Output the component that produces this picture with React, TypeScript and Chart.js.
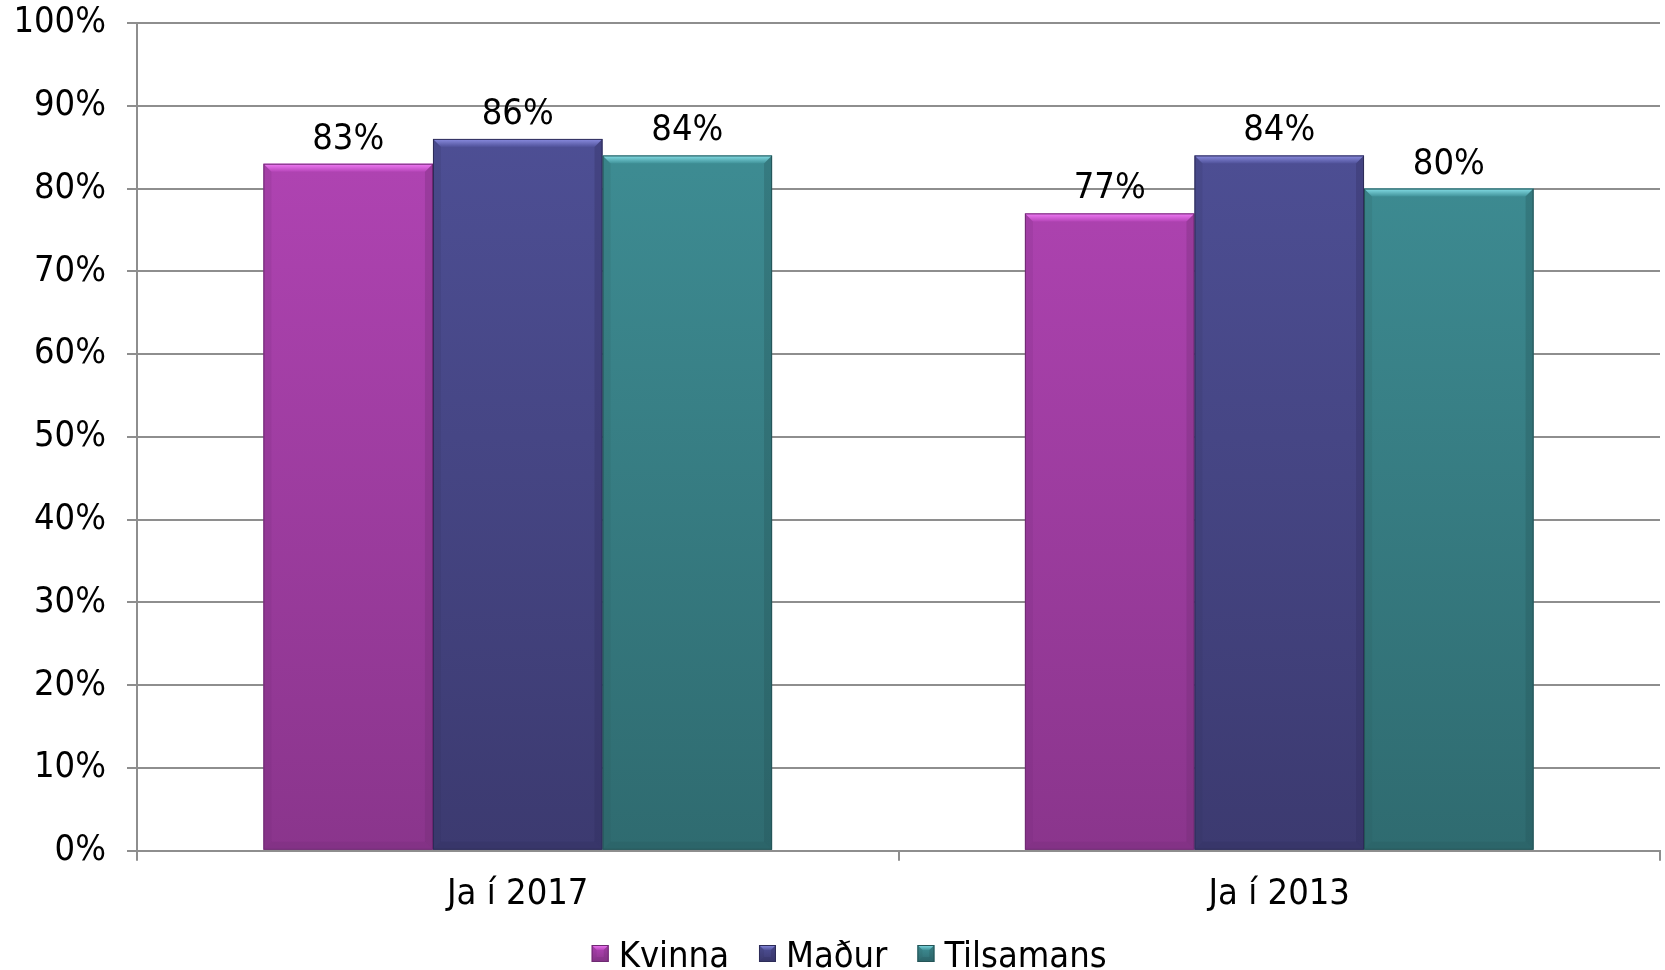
import React, { useEffect, useRef } from "react";
import { Chart, registerables } from "chart.js";

Chart.register(...registerables);

const categories = ["Ja í 2017", "Ja í 2013"];
const seriesNames = ["Kvinna", "Maður", "Tilsamans"];
const kvinna = [83, 77];
const madur = [86, 84];
const tilsamans = [84, 80];
const yTickValues = [0, 10, 20, 30, 40, 50, 60, 70, 80, 90, 100];

const palette = [
  { top: "#b646b9", bottom: "#8a358c", light: "#f27cf7", mid: "#a03fa4", edge: "#6e2a72" },
  { top: "#50529a", bottom: "#3c3a70", light: "#8c8ee2", mid: "#474784", edge: "#2d2c58" },
  { top: "#409299", bottom: "#2f6b70", light: "#86e0e8", mid: "#387e85", edge: "#255457" },
];

const FONT = "'DejaVu Sans Condensed', 'DejaVu Sans', Verdana, sans-serif";
const FSIZE = 36;
const GRID = "#8e8e8e";

function gradientFor(i: number) {
  return (ctx: any) => {
    const chart = ctx.chart;
    const area = chart.chartArea;
    if (!area) return palette[i].mid;
    const g = chart.ctx.createLinearGradient(0, area.top, 0, area.bottom);
    g.addColorStop(0, palette[i].top);
    g.addColorStop(1, palette[i].bottom);
    return g;
  };
}

function drawBevelBox(c: CanvasRenderingContext2D, di: number, x0: number, top: number, x1: number, bot: number, b: number, fill: any) {
  c.save();
  if (fill) {
    c.fillStyle = fill;
    c.fillRect(x0, top, x1 - x0, bot - top);
  }
  const tg = c.createLinearGradient(0, top, 0, top + b);
  tg.addColorStop(0, palette[di].light);
  tg.addColorStop(1, palette[di].top);
  c.fillStyle = tg;
  c.beginPath();
  c.moveTo(x0, top);
  c.lineTo(x1, top);
  c.lineTo(x1 - b, top + b);
  c.lineTo(x0 + b, top + b);
  c.closePath();
  c.fill();
  c.fillStyle = palette[di].edge;
  c.globalAlpha = 0.15;
  c.beginPath();
  c.moveTo(x0, top);
  c.lineTo(x0 + b, top + b);
  c.lineTo(x0 + b, bot - b);
  c.lineTo(x0, bot);
  c.closePath();
  c.fill();
  c.globalAlpha = 0.3;
  c.beginPath();
  c.moveTo(x1, top);
  c.lineTo(x1 - b, top + b);
  c.lineTo(x1 - b, bot - b);
  c.lineTo(x1, bot);
  c.closePath();
  c.fill();
  c.globalAlpha = 0.25;
  c.beginPath();
  c.moveTo(x0, bot);
  c.lineTo(x0 + b, bot - b);
  c.lineTo(x1 - b, bot - b);
  c.lineTo(x1, bot);
  c.closePath();
  c.fill();
  c.globalAlpha = 1;
  c.strokeStyle = palette[di].edge;
  c.lineWidth = 1;
  c.strokeRect(x0 + 0.5, top + 0.5, x1 - x0 - 1, bot - top - 1);
  c.restore();
}

const bevelPlugin = {
  id: "bevel",
  afterDatasetsDraw(chart: any) {
    const c = chart.ctx;
    chart.data.datasets.forEach((_ds: any, di: number) => {
      const meta = chart.getDatasetMeta(di);
      meta.data.forEach((el: any) => {
        const p = el.getProps(["x", "y", "base", "width"], true);
        drawBevelBox(c, di, p.x - p.width / 2, p.y, p.x + p.width / 2, p.base, 8, null);
      });
    });
  },
};

const labelPlugin = {
  id: "valueLabels",
  afterDatasetsDraw(chart: any) {
    const c = chart.ctx;
    c.save();
    c.font = `${FSIZE}px ${FONT}`;
    c.fillStyle = "#000";
    c.textAlign = "center";
    c.textBaseline = "alphabetic";
    chart.data.datasets.forEach((ds: any, di: number) => {
      const meta = chart.getDatasetMeta(di);
      meta.data.forEach((el: any, i: number) => {
        c.fillText(`${ds.data[i]}%`, el.x, el.y - 15);
      });
    });
    c.restore();
  },
};

const legendPlugin = {
  id: "customLegend",
  afterDraw(chart: any) {
    const c = chart.ctx;
    const box = 17;
    const gapText = 10;
    const gapItem = 30;
    c.save();
    c.font = `${FSIZE}px ${FONT}`;
    const widths = seriesNames.map((n) => box + gapText + c.measureText(n).width);
    const total = widths.reduce((a, b) => a + b, 0) + gapItem * (seriesNames.length - 1);
    let x = chart.width * 0.51 - total / 2;
    const yMid = chart.height - 12;
    const boxTop = chart.height - 25;
    seriesNames.forEach((n, i) => {
      const g = c.createLinearGradient(0, boxTop, 0, boxTop + box);
      g.addColorStop(0, palette[i].top);
      g.addColorStop(1, palette[i].bottom);
      drawBevelBox(c, i, x, boxTop, x + box, boxTop + box, 5, g);
      c.fillStyle = "#000";
      c.textAlign = "left";
      c.textBaseline = "middle";
      c.fillText(n, x + box + gapText, yMid);
      x += widths[i] + gapItem;
    });
    c.restore();
  },
};

export default function App() {
  const ref = useRef<HTMLCanvasElement | null>(null);

  useEffect(() => {
    if (!ref.current) return;
    const series = [kvinna, madur, tilsamans];
    const chart = new Chart(ref.current, {
      type: "bar",
      data: {
        labels: categories,
        datasets: series.map((d, i) => ({
          label: seriesNames[i],
          data: d,
          backgroundColor: gradientFor(i),
          borderWidth: 0,
          categoryPercentage: 0.668,
          barPercentage: 1,
        })),
      },
      options: {
        animation: false,
        responsive: true,
        maintainAspectRatio: false,
        layout: { padding: { top: 23, right: 5, left: 0, bottom: 42 } },
        plugins: {
          tooltip: { enabled: false },
          legend: { display: false },
        },
        scales: {
          x: {
            grid: {
              display: true,
              drawOnChartArea: false,
              drawTicks: true,
              tickLength: 10,
              color: GRID,
              lineWidth: 2,
              offset: true,
            },
            border: { display: true, color: GRID, width: 2 },
            ticks: {
              font: { family: FONT, size: FSIZE },
              color: "#000",
              padding: 12,
            },
          },
          y: {
            min: 0,
            max: 100,
            afterBuildTicks: (scale: any) => {
              scale.ticks = yTickValues.map((v) => ({ value: v }));
            },
            afterFit: (scale: any) => {
              scale.width = 137;
              scale.paddingTop = 0;
              scale.paddingBottom = 0;
            },
            grid: { color: GRID, lineWidth: 2, tickLength: 10, drawTicks: true },
            border: { display: true, color: GRID, width: 2 },
            ticks: {
              font: { family: FONT, size: FSIZE },
              color: "#000",
              padding: 21,
              callback: (v: any) => `${v}%`,
            },
          },
        },
      },
      plugins: [bevelPlugin, labelPlugin, legendPlugin],
    });
    return () => chart.destroy();
  }, []);

  return (
    <div style={{ position: "fixed", left: 0, top: 0, width: 1665, height: 970, background: "#fff" }}>
      <canvas ref={ref} />
    </div>
  );
}
